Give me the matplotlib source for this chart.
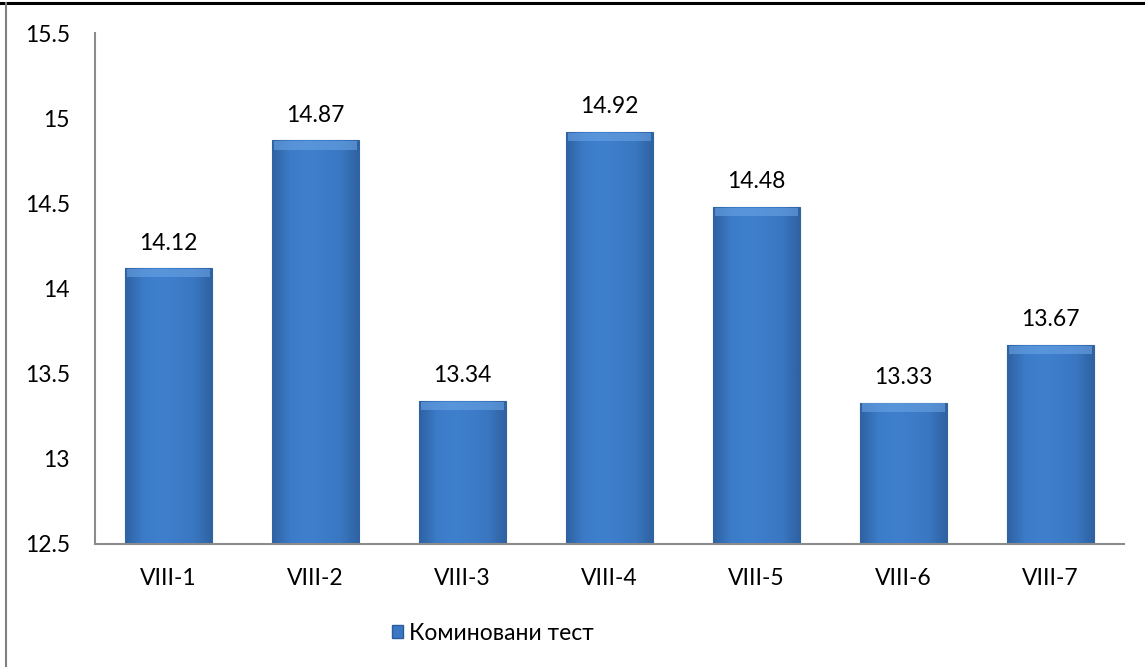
import numpy as np
import matplotlib.pyplot as plt
from matplotlib.patches import Patch
from matplotlib.lines import Line2D
from matplotlib.colors import LinearSegmentedColormap

# --- data ---
categories = ['VIII-1', 'VIII-2', 'VIII-3', 'VIII-4', 'VIII-5', 'VIII-6', 'VIII-7']
values = [14.12, 14.87, 13.34, 14.92, 14.48, 13.33, 13.67]
series_name = 'Коминовани тест'
y_ticks = [12.5, 13, 13.5, 14, 14.5, 15, 15.5]
y_tick_labels = ['12.5', '13', '13.5', '14', '14.5', '15', '15.5']

plt.rcParams['font.family'] = ['Lato', 'DejaVu Sans']
FS = 16.5

fig = plt.figure(figsize=(11.45, 6.67), dpi=100)
ax = fig.add_axes([95 / 1145, 1 - 544 / 667, (1124 - 95) / 1145, (544 - 33) / 667])

x = np.arange(len(categories))
bars = ax.bar(x, values, width=0.59, color='#3a78c5',
              edgecolor='#30649f', linewidth=0.8, zorder=2)

# soft horizontal shading on each bar (slightly darker edges)
grad = np.linspace(0, 1, 64)
cmap = LinearSegmentedColormap.from_list(
    'bevel', ['#2f62a3', '#3b7bc7', '#3f80cd', '#3d7cc9', '#3a77c1', '#2f62a3'])
for b in bars:
    x0, w, h = b.get_x(), b.get_width(), b.get_height()
    im = ax.imshow(grad[np.newaxis, :], cmap=cmap, aspect='auto',
                   extent=[x0, x0 + w, 12.5, h], zorder=2.5)
    im.set_clip_path(b)
    # light top bevel
    ax.fill_between([x0 + 0.015, x0 + w - 0.015], h - 0.055, h - 0.005,
                    color='#6aa3e4', alpha=0.6, zorder=3, linewidth=0)

for xi, v in zip(x, values):
    ax.annotate(f'{v:.2f}', (xi, v), xytext=(0, 18), textcoords='offset points',
                ha='center', va='center', fontsize=FS, color='black')

ax.set_xlim(-0.5, len(categories) - 0.5)
ax.set_ylim(12.5, 15.5)
ax.set_yticks(y_ticks)
ax.set_yticklabels(y_tick_labels)
ax.set_xticks(x)
ax.set_xticklabels(categories)
ax.tick_params(axis='y', length=0, pad=18, labelsize=FS)
ax.tick_params(axis='x', length=0, pad=17, labelsize=FS)

for s in ['top', 'right']:
    ax.spines[s].set_visible(False)
for s in ['left', 'bottom']:
    ax.spines[s].set_color('#8c8c8c')
    ax.spines[s].set_linewidth(1.5)

# outer frame (top and left visible)
fig.add_artist(Line2D([0, 1], [1 - 2.5 / 667, 1 - 2.5 / 667], color='black', linewidth=2.2))
fig.add_artist(Line2D([6 / 1145, 6 / 1145], [0, 1 - 2.5 / 667], color='#7f7f7f', linewidth=1.5))

handle = Patch(facecolor='#3a78c5', edgecolor='#2d5e9c', label=series_name)
fig.legend(handles=[handle], loc='center', bbox_to_anchor=(493 / 1145, 1 - 633 / 667),
           frameon=False, fontsize=FS, handlelength=0.5, handleheight=0.5,
           handletextpad=0.25)

fig.savefig('out.png', dpi=100)
